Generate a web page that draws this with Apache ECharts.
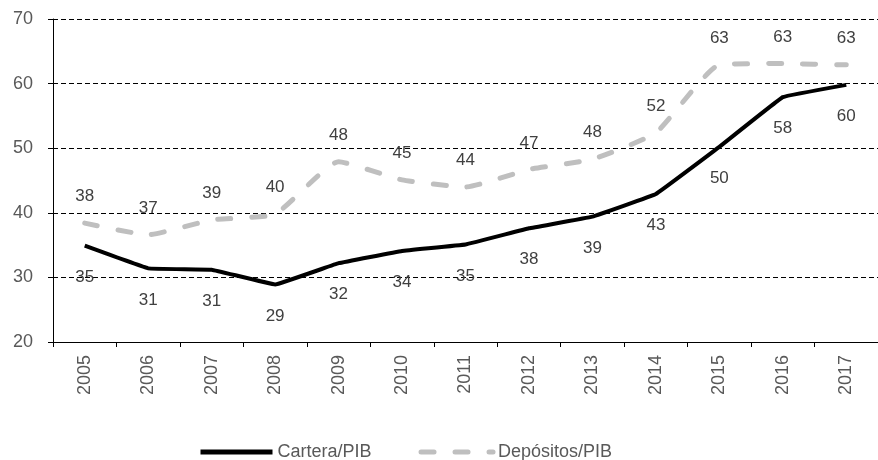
<!DOCTYPE html>
<html><head><meta charset="utf-8">
<script src="https://cdn.jsdelivr.net/npm/echarts@6/dist/echarts.min.js"></script>
<style>html,body{margin:0;padding:0;background:#fff}#c{width:878px;height:460px}</style>
</head><body><div id="c"></div>
<script>
const years = ['2005','2006','2007','2008','2009','2010','2011','2012','2013','2014','2015','2016','2017'];
const cartera = [34.9, 31.4, 31.2, 28.9, 32.2, 34.1, 35.1, 37.6, 39.4, 42.9, 50.2, 57.9, 59.8];
const depositos = [38.4, 36.6, 38.9, 39.8, 47.9, 45.1, 44.0, 46.7, 48.3, 52.4, 62.9, 63.1, 62.9];
const yTicks = [20, 30, 40, 50, 60, 70];
const font = 'Liberation Sans, Arial, sans-serif';
const chart = echarts.init(document.getElementById('c'));
chart.setOption({
  animation: false,
  grid: {left: 53, top: 19, width: 835, height: 323},
  legend: {
    top: 438, left: 193, itemWidth: 72, itemHeight: 14, itemGap: 47,
    itemStyle: {opacity: 0},
    textStyle: {fontFamily: font, fontSize: 18, color: '#595959'},
    data: [
      {name: 'Cartera/PIB', lineStyle: {width: 5}},
      {name: 'Depósitos/PIB', lineStyle: {width: 5}}
    ]
  },
  xAxis: {
    type: 'category', data: years, boundaryGap: true,
    axisLine: {lineStyle: {color: '#000', width: 1}},
    axisTick: {show: true, length: 5, lineStyle: {color: '#000'}},
    axisLabel: {rotate: 90, margin: 13, fontFamily: font, fontSize: 18, color: '#595959'}
  },
  yAxis: {
    type: 'value', min: yTicks[0], max: yTicks[yTicks.length - 1], interval: 10,
    axisLine: {show: true, lineStyle: {color: '#000', width: 1}},
    axisTick: {show: true, length: 5, lineStyle: {color: '#000'}},
    axisLabel: {fontFamily: font, fontSize: 18, color: '#595959', margin: 20},
    splitLine: {lineStyle: {color: '#000', type: [5, 3], width: 1}}
  },
  series: [
    {
      name: 'Cartera/PIB', type: 'line', data: cartera, symbol: 'circle', symbolSize: 0, showSymbol: true, smooth: 0.05,
      lineStyle: {color: '#000', width: 4, join: 'round'}, itemStyle: {color: '#000'},
      label: {show: true, position: 'bottom', distance: 23, fontFamily: font, fontSize: 17, color: '#404040',
        formatter: p => Math.round(p.value)}
    },
    {
      name: 'Depósitos/PIB', type: 'line', data: depositos, symbol: 'circle', symbolSize: 0, showSymbol: true, smooth: 0.15,
      lineStyle: {color: '#BFBFBF', width: 5, type: [13, 21], cap: 'round'}, itemStyle: {color: '#BFBFBF'},
      label: {show: true, position: 'top', distance: 18, fontFamily: font, fontSize: 17, color: '#404040',
        formatter: p => Math.round(p.value)}
    }
  ]
});
</script></body></html>
